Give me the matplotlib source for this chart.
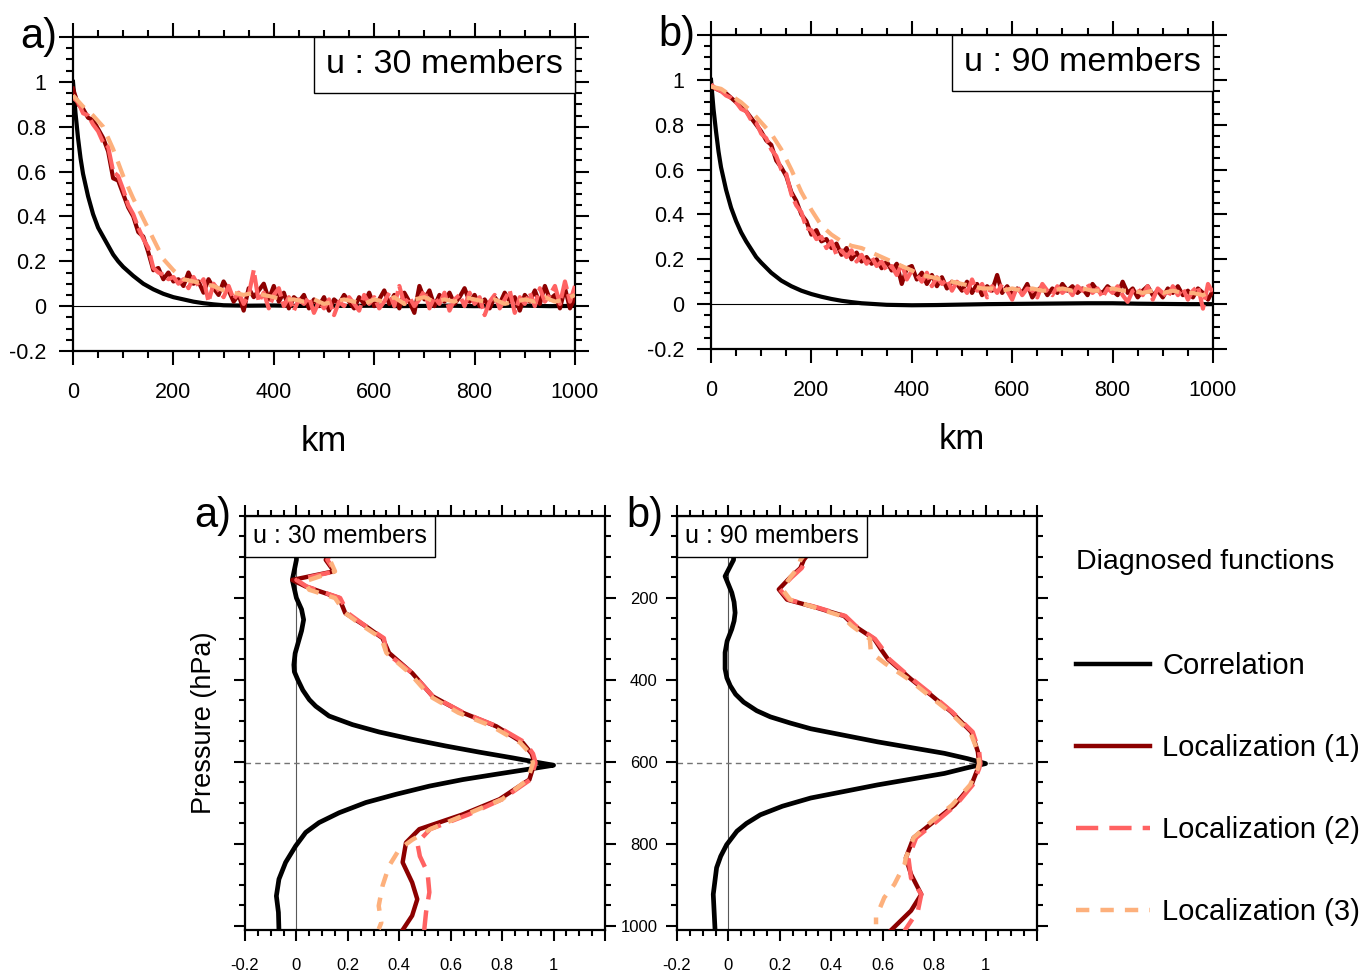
import numpy as np
import matplotlib
matplotlib.use('Agg')
import matplotlib.pyplot as plt
from matplotlib.offsetbox import AnchoredText

plt.rcParams['font.family'] = ['Liberation Sans', 'DejaVu Sans']

# ---------------- data: horizontal functions (top row) ----------------
km_10 = np.arange(0, 1001, 10)
km_20 = np.arange(0, 1001, 20)
km_corr = [0, 5, 10, 15, 20, 30, 40, 50, 60, 70, 80, 90, 100, 120, 140, 160, 180,
           200, 220, 240, 260, 280, 300, 350, 400, 450, 500, 550, 600, 650, 700,
           750, 800, 850, 900, 950, 1000]

corr_h30 = [1.0, 0.86, 0.75, 0.66, 0.59, 0.49, 0.41, 0.35, 0.31, 0.27, 0.23, 0.20,
            0.175, 0.135, 0.10, 0.075, 0.055, 0.04, 0.03, 0.02, 0.013, 0.008, 0.004,
            0.002, 0.003, 0.001, 0.002, 0.001, 0.002, 0.0, 0.001, 0.002, 0.0, 0.001,
            0.002, 0.0, 0.001]
loc1_h30 = [0.97, 0.90, 0.88, 0.84, 0.83, 0.79, 0.75, 0.69, 0.57, 0.56,
            0.50, 0.44, 0.40, 0.33, 0.31, 0.24, 0.16, 0.17, 0.12, 0.15,
            0.11, 0.12, 0.09, 0.15, 0.10, 0.11, 0.06, 0.12, 0.08, 0.05,
            0.11, 0.07, 0.02, 0.05, -0.02, 0.08, 0.04, 0.07, 0.10, 0.03,
            0.09, 0.02, 0.06, -0.01, 0.04, 0.02, 0.05, -0.01, 0.03, 0.00,
            0.04, -0.02, 0.03, 0.01, 0.05, 0.02, -0.01, 0.04, 0.01, 0.06,
            0.00, 0.03, 0.07, 0.01, 0.05, -0.01, 0.06, 0.02, -0.03, 0.09,
            0.03, 0.07, 0.00, 0.05, 0.02, 0.06, 0.01, 0.04, 0.08, 0.02,
            0.05, 0.00, 0.03, -0.01, 0.04, 0.01, 0.06, 0.02, 0.04, -0.02,
            0.05, 0.02, 0.07, 0.01, 0.09, 0.03, 0.05, -0.01, 0.08, -0.01,
            0.04]
loc2_h30 = [0.93, 0.91, 0.86, 0.85, 0.81, 0.78, 0.73, 0.71, 0.60, 0.58,
            0.52, 0.45, 0.41, 0.35, 0.30, 0.26, 0.17, 0.15, 0.14, 0.12,
            0.13, 0.10, 0.12, 0.08, 0.13, 0.09, 0.12, 0.02, 0.10, 0.07,
            0.04, 0.09, 0.03, 0.06, 0.01, 0.05, 0.16, 0.02, 0.06, -0.01,
            0.05, 0.08, 0.00, 0.04, -0.02, 0.03, 0.01, 0.04, -0.03, 0.02,
            -0.01, 0.03, -0.04, 0.02, 0.00, 0.04, 0.01, -0.02, 0.05, 0.01,
            0.04, -0.01, 0.02, 0.06, 0.00, 0.09, 0.01, 0.04, 0.00, 0.03,
            0.07, -0.01, 0.04, 0.01, 0.06, -0.02, 0.03, 0.05, 0.00, 0.06,
            0.01, 0.04, -0.04, 0.02, 0.05, -0.01, 0.03, 0.07, -0.03, 0.04,
            0.01, 0.06, 0.00, 0.08, 0.02, 0.05, 0.09, 0.01, 0.11, 0.02,
            0.09]
loc3_h30 = [0.94, 0.89, 0.85, 0.80, 0.70, 0.58, 0.48, 0.39, 0.30, 0.21,
            0.16, 0.12, 0.11, 0.10, 0.09, 0.07, 0.06, 0.05, 0.06, 0.05,
            0.04, 0.03, 0.03, 0.02, 0.03, 0.01, 0.02, 0.03, 0.02, 0.01,
            0.03, 0.02, 0.04, 0.01, 0.03, 0.04, 0.02, 0.03, 0.02, 0.04,
            0.03, 0.02, 0.03, 0.01, 0.02, 0.03, 0.02, 0.04, 0.02, 0.03,
            0.05]

corr_h90 = [1.0, 0.87, 0.77, 0.68, 0.61, 0.51, 0.43, 0.37, 0.32, 0.28, 0.245, 0.21,
            0.185, 0.14, 0.105, 0.08, 0.06, 0.045, 0.033, 0.023, 0.015, 0.009, 0.004,
            -0.003, -0.005, -0.004, -0.002, 0.0, 0.001, 0.002, 0.003, 0.004, 0.004,
            0.002, 0.001, 0.0, 0.0]
loc1_h90 = [0.97, 0.96, 0.95, 0.94, 0.92, 0.90, 0.88, 0.86, 0.83, 0.80,
            0.77, 0.73, 0.71, 0.64, 0.61, 0.57, 0.50, 0.46, 0.40, 0.37,
            0.31, 0.33, 0.28, 0.29, 0.25, 0.27, 0.22, 0.25, 0.20, 0.23,
            0.19, 0.21, 0.18, 0.20, 0.16, 0.19, 0.15, 0.18, 0.09, 0.16,
            0.17, 0.11, 0.14, 0.09, 0.13, 0.08, 0.12, 0.07, 0.10, 0.09,
            0.06, 0.10, 0.05, 0.09, 0.04, 0.08, 0.06, 0.13, 0.05, 0.08,
            0.04, 0.07, 0.05, 0.09, 0.03, 0.06, 0.08, 0.04, 0.07, 0.05,
            0.09, 0.06, 0.08, 0.05, 0.07, 0.04, 0.09, 0.06, 0.05, 0.08,
            0.06, 0.04, 0.10, 0.05, 0.07, 0.03, 0.06, 0.08, 0.04, 0.06,
            0.03, 0.07, 0.05, 0.08, 0.04, 0.06, 0.03, 0.07, 0.05, 0.02,
            0.06]
loc2_h90 = [0.98, 0.96, 0.95, 0.93, 0.92, 0.90, 0.87, 0.86, 0.82, 0.81,
            0.76, 0.74, 0.69, 0.66, 0.60, 0.58, 0.49, 0.44, 0.41, 0.34,
            0.33, 0.29, 0.30, 0.25, 0.28, 0.22, 0.24, 0.21, 0.24, 0.19,
            0.22, 0.18, 0.21, 0.17, 0.19, 0.15, 0.17, 0.13, 0.18, 0.11,
            0.15, 0.13, 0.10, 0.14, 0.08, 0.12, 0.09, 0.11, 0.06, 0.10,
            0.08, 0.05, 0.11, 0.06, 0.09, 0.03, 0.08, 0.05, 0.09, 0.06,
            0.02, 0.08, 0.04, 0.07, 0.06, 0.03, 0.09, 0.06, 0.04, 0.08,
            0.05, 0.07, 0.04, 0.08, 0.06, 0.09, 0.05, 0.07, 0.03, 0.07,
            0.05, 0.08, 0.04, 0.01, 0.06, 0.07, 0.04, 0.08, 0.02, 0.07,
            0.05, 0.03, 0.08, 0.04, 0.07, 0.02, 0.06, 0.08, -0.02, 0.09,
            0.05]
loc3_h90 = [0.97, 0.96, 0.93, 0.90, 0.86, 0.81, 0.76, 0.69, 0.60, 0.50,
            0.42, 0.35, 0.31, 0.28, 0.26, 0.25, 0.23, 0.21, 0.19, 0.17,
            0.15, 0.13, 0.12, 0.11, 0.10, 0.09, 0.08, 0.07, 0.07, 0.06,
            0.07, 0.06, 0.07, 0.06, 0.06, 0.07, 0.06, 0.07, 0.06, 0.06,
            0.07, 0.06, 0.06, 0.05, 0.06, 0.05, 0.06, 0.05, 0.05, 0.04,
            0.06]

# ---------------- data: vertical functions (bottom row) ----------------
ref_level = 603
corr_p30 = [0, 60, 107, 156, 200, 228, 253, 280, 302, 335, 363, 380, 399, 425, 448,
            464, 488, 509, 527, 545, 561, 576, 590, 602, 608, 618, 630, 643, 659,
            679, 699, 724, 748, 772, 805, 845, 886, 927, 967, 1010]
corr_v30 = [0.0, 0.0, 0.0, -0.016, 0.0, 0.02, 0.028, 0.02, 0.01, -0.005, -0.01,
            -0.008, 0.005, 0.025, 0.05, 0.075, 0.127, 0.218, 0.322, 0.452, 0.58,
            0.71, 0.84, 0.945, 1.0, 0.90, 0.777, 0.647, 0.517, 0.387, 0.27, 0.166,
            0.088, 0.036, -0.003, -0.042, -0.068, -0.078, -0.07, -0.068]
loc1_p30 = [0, 60, 107, 135, 156, 172, 200, 237, 269, 298, 334, 383, 440, 480, 513,
            553, 580, 602, 643, 691, 728, 764, 797, 845, 894, 935, 975, 1010]
loc1_v30 = [0.18, 0.15, 0.114, 0.146, -0.016, 0.036, 0.166, 0.19, 0.27, 0.335, 0.36,
            0.45, 0.53, 0.647, 0.777, 0.88, 0.915, 0.926, 0.906, 0.79, 0.647, 0.478,
            0.426, 0.413, 0.45, 0.47, 0.45, 0.413]
loc2_p30 = [0, 60, 107, 135, 156, 172, 200, 237, 269, 298, 334, 383, 440, 480, 513,
            553, 580, 602, 643, 691, 728, 764, 797, 830, 870, 918, 967, 1010]
loc2_v30 = [0.19, 0.16, 0.12, 0.15, 0.0, 0.04, 0.17, 0.20, 0.27, 0.34, 0.35, 0.45,
            0.53, 0.65, 0.78, 0.89, 0.92, 0.93, 0.91, 0.80, 0.67, 0.52, 0.47, 0.48,
            0.51, 0.517, 0.504, 0.497]
loc3_p30 = [0, 60, 107, 135, 160, 180, 200, 237, 269, 298, 334, 383, 440, 480, 513,
            553, 580, 602, 643, 691, 728, 764, 790, 813, 854, 902, 951, 992, 1008]
loc3_v30 = [0.19, 0.16, 0.13, 0.15, 0.03, 0.05, 0.15, 0.19, 0.26, 0.33, 0.35, 0.44,
            0.52, 0.63, 0.76, 0.87, 0.91, 0.92, 0.90, 0.80, 0.66, 0.52, 0.45, 0.40,
            0.36, 0.335, 0.32, 0.33, 0.32]

corr_p90 = [0, 60, 107, 147, 187, 210, 236, 256, 276, 305, 333, 373, 395, 414, 435,
            454, 475, 490, 505, 519, 535, 551, 565, 579, 592, 604, 614, 628, 642, 656,
            672, 688, 708, 729, 750, 769, 802, 830, 858, 923, 1010]
corr_v90 = [0.02, 0.02, 0.02, -0.013, 0.013, 0.022, 0.026, 0.022, 0.013, -0.005,
            -0.013, -0.013, -0.006, 0.007, 0.028, 0.059, 0.11, 0.163, 0.24, 0.32,
            0.45, 0.58, 0.71, 0.84, 0.93, 1.0, 0.93, 0.84, 0.71, 0.58, 0.45, 0.32,
            0.21, 0.124, 0.07, 0.033, -0.007, -0.03, -0.046, -0.059, -0.052]
loc1_p90 = [0, 60, 107, 127, 150, 179, 204, 224, 244, 268, 300, 325, 349, 398, 438,
            478, 527, 575, 604, 616, 656, 705, 745, 785, 834, 874, 923, 963, 1012]
loc1_v90 = [0.45, 0.35, 0.293, 0.28, 0.24, 0.196, 0.228, 0.345, 0.45, 0.49, 0.567,
            0.593, 0.62, 0.71, 0.79, 0.867, 0.945, 0.97, 0.975, 0.97, 0.945, 0.88,
            0.80, 0.72, 0.69, 0.71, 0.75, 0.71, 0.63]
loc2_p90 = [0, 60, 107, 127, 150, 179, 204, 224, 244, 268, 300, 325, 349, 398, 438,
            478, 527, 575, 604, 616, 656, 705, 745, 785, 834, 883, 923, 963, 1012]
loc2_v90 = [0.46, 0.36, 0.30, 0.285, 0.245, 0.20, 0.235, 0.35, 0.455, 0.495, 0.57,
            0.60, 0.625, 0.715, 0.795, 0.87, 0.95, 0.975, 0.98, 0.975, 0.95, 0.885,
            0.81, 0.73, 0.70, 0.71, 0.75, 0.737, 0.685]
loc3_p90 = [0, 60, 107, 127, 150, 179, 204, 224, 244, 268, 300, 333, 360, 398, 438,
            478, 527, 575, 604, 616, 656, 705, 745, 785, 834, 850, 899, 931, 979, 996]
loc3_v90 = [0.44, 0.34, 0.28, 0.27, 0.24, 0.21, 0.24, 0.34, 0.44, 0.48, 0.55, 0.554,
            0.61, 0.70, 0.78, 0.86, 0.94, 0.97, 0.975, 0.97, 0.94, 0.87, 0.79, 0.72,
            0.69, 0.685, 0.645, 0.606, 0.574, 0.574]

# ticks / labels
h_xticks = [0, 200, 400, 600, 800, 1000]
h_yticks = [-0.2, 0, 0.2, 0.4, 0.6, 0.8, 1.0, 1.2]
h_ylabels = ['-0.2', '0', '0.2', '0.4', '0.6', '0.8', '1', '']
v_xticks = [-0.2, 0, 0.2, 0.4, 0.6, 0.8, 1.0, 1.2]
v_xlabels = ['-0.2', '0', '0.2', '0.4', '0.6', '0.8', '1', '']
v_yticks = [200, 400, 600, 800, 1000]

c_corr = 'black'
c_loc1 = '#8c0000'
c_loc2 = '#ff6262'
c_loc3 = '#fdb07c'

fig = plt.figure(figsize=(13.64, 9.75), dpi=100)
W, H = 1364, 975


def frame(ax, major, minor):
    for s in ax.spines.values():
        s.set_linewidth(1.6)
    ax.tick_params(which='both', direction='out', top=True, right=True, width=1.5)
    ax.tick_params(which='major', length=major)
    ax.tick_params(which='minor', length=minor)


# ---------------- top row ----------------
top_axes = [
    fig.add_axes([73 / W, 1 - 351 / H, 502 / W, 314 / H]),
    fig.add_axes([711 / W, 1 - 349 / H, 502 / W, 314 / H]),
]
top_data = [
    (corr_h30, loc1_h30, loc2_h30, loc3_h30, 'u : 30 members', 'a)'),
    (corr_h90, loc1_h90, loc2_h90, loc3_h90, 'u : 90 members', 'b)'),
]
for ax, (cr, l1, l2, l3, title, tag) in zip(top_axes, top_data):
    ax.axhline(0, color='black', lw=0.8, zorder=1)
    ax.plot(km_corr, cr, color=c_corr, lw=3.0, zorder=2)
    ax.plot(km_10, l1, color=c_loc1, lw=3.0, zorder=3)
    ax.plot(km_10, l2, color=c_loc2, lw=3.0, dashes=(6, 1.2), zorder=4)
    ax.plot(km_20, l3, color=c_loc3, lw=3.0, dashes=(4, 2.5), zorder=5)
    ax.set_xlim(0, 1000)
    ax.set_ylim(-0.2, 1.2)
    ax.set_xticks(h_xticks)
    ax.set_xticks(np.arange(0, 1001, 50), minor=True)
    ax.set_yticks(h_yticks, h_ylabels)
    ax.set_yticks(np.arange(-0.2, 1.21, 0.05), minor=True)
    frame(ax, 10, 5)
    ax.tick_params(labelsize=15.5, pad=9)
    ax.tick_params(axis='x', pad=12)
    ax.set_xlabel('km', fontsize=25, labelpad=16)
    at = AnchoredText(title, loc='upper right', prop=dict(size=24.5), frameon=True,
                      borderpad=0, pad=0.36)
    at.patch.set_linewidth(1.0)
    at.set_zorder(10)
    ax.add_artist(at)
    ax.text(-0.105, 1.0, tag, transform=ax.transAxes, fontsize=30, va='center',
            ha='left')

# ---------------- bottom row ----------------
bot_axes = [
    fig.add_axes([245 / W, 1 - 930 / H, 360 / W, 414 / H]),
    fig.add_axes([677 / W, 1 - 930 / H, 360 / W, 414 / H]),
]
bot_data = [
    (corr_p30, corr_v30, loc1_p30, loc1_v30, loc2_p30, loc2_v30, loc3_p30, loc3_v30,
     'u : 30 members', 'a)'),
    (corr_p90, corr_v90, loc1_p90, loc1_v90, loc2_p90, loc2_v90, loc3_p90, loc3_v90,
     'u : 90 members', 'b)'),
]
handles = []
for i, (ax, d) in enumerate(zip(bot_axes, bot_data)):
    cp, cv, p1, v1, p2, v2, p3, v3, title, tag = d
    ax.axvline(0, color='0.35', lw=0.8, zorder=1)
    ax.axhline(ref_level, color='0.45', lw=1.0, dashes=(4, 3), zorder=1)
    h0, = ax.plot(cv, cp, color=c_corr, lw=3.4, zorder=2, label='Correlation')
    h1, = ax.plot(v1, p1, color=c_loc1, lw=3.2, zorder=3, label='Localization (1)')
    h2, = ax.plot(v2, p2, color=c_loc2, lw=3.2, dashes=(5, 2.5), zorder=4,
                  label='Localization (2)')
    h3, = ax.plot(v3, p3, color=c_loc3, lw=3.2, dashes=(3, 2.5), zorder=5,
                  label='Localization (3)')
    handles = [h0, h1, h2, h3]
    ax.set_xlim(-0.2, 1.2)
    ax.set_ylim(1010, 0)
    ax.set_xticks(v_xticks, v_xlabels)
    ax.set_xticks(np.arange(-0.2, 1.21, 0.05), minor=True)
    ax.set_yticks(v_yticks)
    ax.set_yticks(np.arange(0, 1001, 50), minor=True)
    frame(ax, 8, 4)
    ax.tick_params(labelsize=12, pad=6)
    ax.tick_params(axis='x', pad=12)
    if i == 0:
        ax.tick_params(axis='y', labelleft=False)
        ax.set_ylabel('Pressure (hPa)', fontsize=19.5, labelpad=12)
    at = AnchoredText(title, loc='upper left', prop=dict(size=18), frameon=True,
                      borderpad=0, pad=0.33)
    at.patch.set_linewidth(1.0)
    at.set_zorder(10)
    ax.add_artist(at)
    ax.text(-0.14, 1.0, tag, transform=ax.transAxes, fontsize=30, va='center',
            ha='left')

fig.text(1076 / W, 1 - 562 / H, 'Diagnosed functions', fontsize=20.5,
         ha='left', va='center')
leg = fig.legend(handles=handles, loc='upper left',
                 bbox_to_anchor=(1076 / W, 1 - 652 / H), frameon=False,
                 fontsize=21, handlelength=2.55, handletextpad=0.4,
                 labelspacing=1.85, borderpad=0, borderaxespad=0)
for line in leg.get_lines():
    line.set_linewidth(3.2)

fig.savefig('out.png', dpi=100)
